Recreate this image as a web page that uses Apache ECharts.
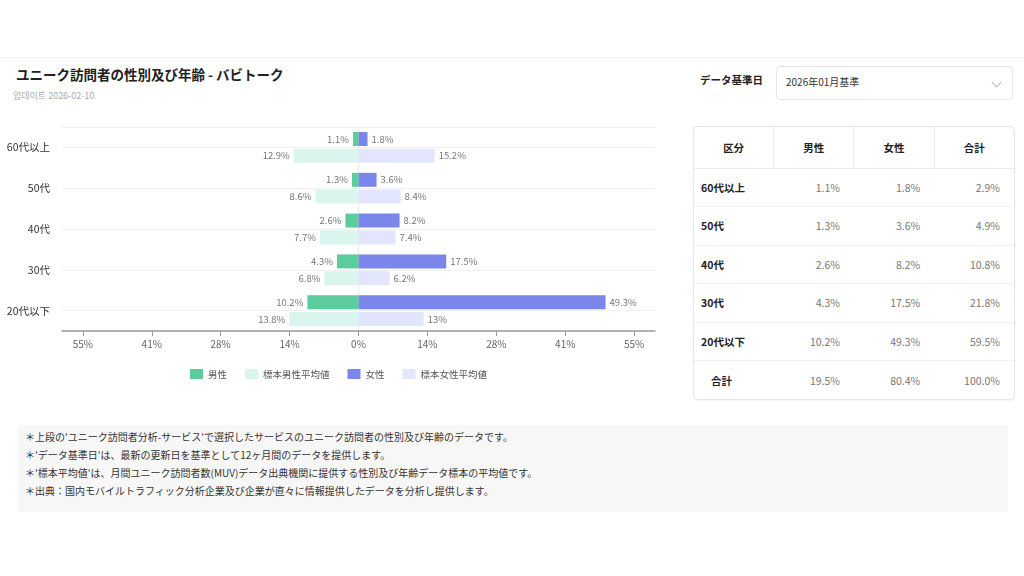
<!DOCTYPE html>
<html>
<head>
<meta charset="utf-8">
<script src="https://cdn.jsdelivr.net/npm/echarts@6/dist/echarts.min.js"></script>
<style>
  html,body{margin:0;padding:0;background:#fff;}
  body{width:1024px;height:576px;position:relative;overflow:hidden;font-family:"Noto Sans CJK JP","Noto Sans",sans-serif;}
  #topband{position:absolute;left:0;top:0;width:1024px;height:57px;background:#fff;border-bottom:1px solid #f1f1f1;}
  #title{position:absolute;left:16px;top:64px;font-size:13.5px;font-weight:bold;color:#222;}
  #sub{position:absolute;left:13px;top:89px;font-size:9px;color:#aaa;font-family:"Noto Sans CJK KR","Noto Sans",sans-serif;}
  #chart{position:absolute;left:0;top:0;width:680px;height:400px;}
  #dlabel{position:absolute;left:700px;top:72px;font-size:10.5px;font-weight:bold;color:#222;}
  #dbox{position:absolute;left:776px;top:66px;width:237px;height:34px;border:1px solid #e6e6e6;border-radius:4px;box-sizing:border-box;}
  #dbox span{position:absolute;left:9px;top:7px;font-size:10px;color:#333;}
  #dbox i{position:absolute;right:12px;top:12px;width:6px;height:6px;border-right:1px solid #bbb;border-bottom:1px solid #bbb;transform:rotate(45deg);}
  #tbl{position:absolute;left:693px;top:126px;width:322px;height:274px;border:1px solid #e6e6e6;border-radius:5px;box-sizing:border-box;box-shadow:0 1px 2px rgba(0,0,0,0.05);overflow:hidden;}
  table{border-collapse:collapse;width:100%;table-layout:fixed;}
  tr{height:38.5px;}
  tr.hd{height:41px;}
  th{font-size:10.5px;font-weight:bold;color:#222;border-right:1px solid #ececec;border-bottom:1px solid #ececec;padding:0;width:25%;}
  th:last-child{border-right:none;}
  td{font-size:10.5px;color:#777;text-align:right;padding:0 14px 0 0;border-bottom:1px solid #f0f0f0;}
  tr:last-child td{border-bottom:none;}
  td.lab{text-align:left;padding:0 0 0 7px;font-weight:bold;color:#222;}
  td.tot{padding-left:17px;}
  #notes{position:absolute;left:18px;top:425px;width:990px;height:87px;background:#f7f7f7;}
  #notes div{position:absolute;left:7px;font-size:10px;color:#333;white-space:nowrap;}
</style>
</head>
<body>
<div id="topband"></div>
<div id="title">ユニーク訪問者の性別及び年齢 - バビトーク</div>
<div id="sub">업데이트 2026-02-10</div>
<div id="chart"></div>
<div id="dlabel">データ基準日</div>
<div id="dbox"><span>2026年01月基準</span><i></i></div>
<div id="tbl"><table id="t"></table></div>
<div id="notes"></div>
<script>
const categories = ['20代以下','30代','40代','50代','60代以上'];
const male = [10.2, 4.3, 2.6, 1.3, 1.1];
const female = [49.3, 17.5, 8.2, 3.6, 1.8];
const sampleMale = [13.8, 6.8, 7.7, 8.6, 12.9];
const sampleFemale = [13, 6.2, 7.4, 8.4, 15.2];
const totals = [59.5, 21.8, 10.8, 4.9, 2.9];
const totalRow = ['合計', '19.5%', '80.4%', '100.0%'];
const tableHeader = ['区分', '男性', '女性', '合計'];
const legendNames = ['男性', '標本男性平均値', '女性', '標本女性平均値'];
const tickValues = [-55, -41.25, -27.5, -13.75, 0, 13.75, 27.5, 41.25, 55];
const notes = [
  '＊上段の\'ユニーク訪問者分析-サービス\'で選択したサービスのユニーク訪問者の性別及び年齢のデータです。',
  '＊\'データ基準日\'は、最新の更新日を基準として12ヶ月間のデータを提供します。',
  '＊\'標本平均値\'は、月間ユニーク訪問者数(MUV)データ出典機関に提供する性別及び年齢データ標本の平均値です。',
  '＊出典：国内モバイルトラフィック分析企業及び企業が直々に情報提供したデータを分析し提供します。'
];

// table
(function(){
  let h = '<tr class="hd">' + tableHeader.map(x => '<th>' + x + '</th>').join('') + '</tr>';
  for (let i = categories.length - 1; i >= 0; i--) {
    h += '<tr><td class="lab">' + categories[i] + '</td><td>' + male[i] + '%</td><td>' + female[i] + '%</td><td>' + totals[i] + '%</td></tr>';
  }
  h += '<tr><td class="lab tot">' + totalRow[0] + '</td><td>' + totalRow[1] + '</td><td>' + totalRow[2] + '</td><td>' + totalRow[3] + '</td></tr>';
  document.getElementById('t').innerHTML = h;
  const n = document.getElementById('notes');
  notes.forEach((s, i) => {
    const d = document.createElement('div');
    d.style.top = (4 + i * 18) + 'px';
    d.textContent = s;
    n.appendChild(d);
  });
})();

const maxV = Math.max(...female, ...male, ...sampleMale, ...sampleFemale) * 1.2;
const font = '"Noto Sans CJK JP","Noto Sans",sans-serif';
const chart = echarts.init(document.getElementById('chart'), null, {renderer: 'canvas'});
const lbl = (pos) => ({
  show: true, position: pos, distance: 4, fontSize: 9.5, color: '#777', fontFamily: font,
  formatter: p => Math.abs(p.value) + '%'
});
chart.setOption({
  animation: false,
  textStyle: {fontFamily: font},
  grid: {left: 62, top: 127, width: 593, height: 204, containLabel: false},
  legend: {
    data: legendNames, left: 185, top: 364, itemWidth: 13, itemHeight: 10, itemGap: 18,
    icon: 'rect', textStyle: {fontSize: 9.5, color: '#555', fontFamily: font}
  },
  xAxis: [{
    type: 'value', min: -maxV, max: maxV, position: 'bottom',
    splitLine: {show: false},
    axisLine: {show: true, lineStyle: {color: '#999', width: 1.5}},
    axisTick: {show: true, customValues: tickValues, length: 5, lineStyle: {color: '#999'}},
    axisLabel: {customValues: tickValues, fontSize: 10, color: '#666', margin: 8,
      formatter: v => Math.round(Math.abs(v)) + '%'}
  }, {
    type: 'value', min: -maxV, max: maxV, position: 'top',
    splitLine: {show: false}, axisTick: {show: false}, axisLabel: {show: false},
    axisLine: {show: true, lineStyle: {color: '#f0f0f0', width: 1}}
  }],
  yAxis: {
    type: 'category', data: categories,
    axisLine: {show: true, lineStyle: {color: '#ececec'}},
    axisTick: {show: false},
    splitLine: {show: true, alignWithLabel: true, lineStyle: {color: '#f0f0f0'}},
    axisLabel: {fontSize: 10.5, color: '#333', margin: 12}
  },
  series: [
    {name: '男性', type: 'bar', stack: 'real', barWidth: 14, barGap: '20%',
      data: male.map(v => -v), itemStyle: {color: '#5ccc9c'}, label: lbl('left')},
    {name: '女性', type: 'bar', stack: 'real', barWidth: 14, barGap: '20%',
      data: female, itemStyle: {color: '#7b86ea'}, label: lbl('right')},
    {name: '標本男性平均値', type: 'bar', stack: 'sample', barWidth: 14, barGap: '20%',
      data: sampleMale.map(v => -v), itemStyle: {color: '#daf5ee'}, label: lbl('left')},
    {name: '標本女性平均値', type: 'bar', stack: 'sample', barWidth: 14, barGap: '20%',
      data: sampleFemale, itemStyle: {color: '#e2e5fb'}, label: lbl('right')}
  ]
});
</script>
</body>
</html>
